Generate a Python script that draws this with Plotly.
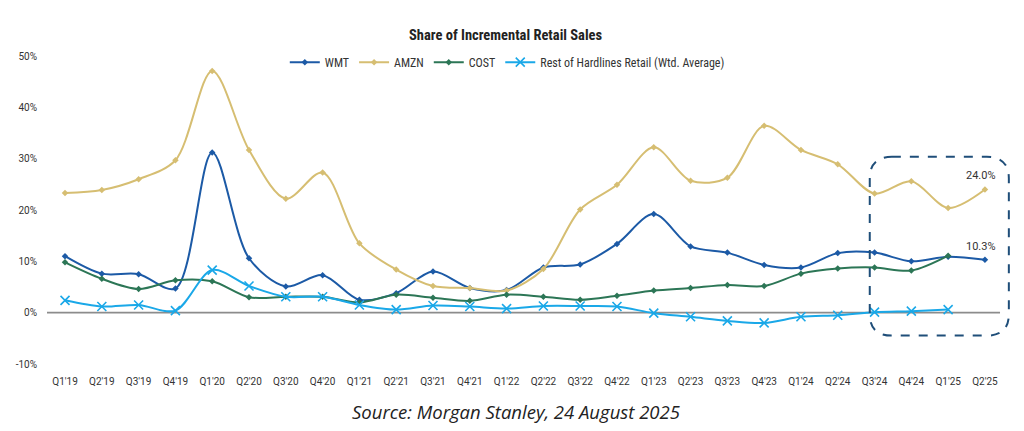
import plotly.graph_objects as go

quarters = ["Q1'19","Q2'19","Q3'19","Q4'19","Q1'20","Q2'20","Q3'20","Q4'20",
            "Q1'21","Q2'21","Q3'21","Q4'21","Q1'22","Q2'22","Q3'22","Q4'22",
            "Q1'23","Q2'23","Q3'23","Q4'23","Q1'24","Q2'24","Q3'24","Q4'24",
            "Q1'25","Q2'25"]

wmt = [11.0, 7.6, 7.5, 4.7, 31.2, 10.6, 5.1, 7.3, 2.5, 3.8, 8.0, 4.8, 4.4, 8.8,
       9.4, 13.4, 19.2, 12.9, 11.7, 9.3, 8.8, 11.6, 11.7, 10.0, 10.9, 10.3]
amzn = [23.3, 23.9, 26.0, 29.7, 47.1, 31.7, 22.2, 27.3, 13.5, 8.4, 5.2, 4.8, 4.3, 8.5,
        20.1, 24.9, 32.2, 25.7, 26.3, 36.4, 31.7, 28.9, 23.2, 25.6, 20.4, 24.0]
cost = [9.8, 6.6, 4.6, 6.3, 6.1, 3.0, 3.1, 3.1, 2.0, 3.5, 2.9, 2.3, 3.5, 3.1,
        2.5, 3.3, 4.3, 4.8, 5.4, 5.2, 7.6, 8.6, 8.8, 8.2, 11.1]
rest = [2.4, 1.2, 1.5, 0.4, 8.3, 5.2, 3.1, 3.1, 1.5, 0.6, 1.4, 1.2, 0.8, 1.3,
        1.3, 1.2, -0.1, -0.8, -1.6, -2.0, -0.8, -0.5, 0.1, 0.3, 0.6]

yticks = [-10, 0, 10, 20, 30, 40, 50]

C_WMT = "#1C5AA6"
C_AMZN = "#D6BE72"
C_COST = "#2C7656"
C_REST = "#1AA8E8"
NARROW = "Roboto Condensed, Roboto, sans-serif"
ROBOTO = "Roboto, sans-serif"

xi = list(range(len(quarters)))

fig = go.Figure()

def add(name, vals, color, symbol, msize, lw=2.0, mline=None):
    marker = dict(symbol=symbol, size=msize, color=color)
    if mline:
        marker["line"] = dict(color=color, width=mline)
    fig.add_trace(go.Scatter(
        x=xi[:len(vals)], y=vals, name=name, mode="lines+markers",
        line=dict(color=color, width=lw, shape="spline", smoothing=0.9),
        marker=marker))

add("WMT", wmt, C_WMT, "diamond", 5)
add("AMZN", amzn, C_AMZN, "diamond", 5)
add("COST", cost, C_COST, "diamond", 5)
add("Rest of Hardlines Retail (Wtd. Average)", rest, C_REST, "x-thin-open", 9, mline=1.6)

# zero line
fig.add_shape(type="line", xref="x", yref="y", x0=-0.49, x1=25.41, y0=0, y1=0,
              line=dict(color="#8C8C8C", width=1.6), layer="below")

# rounded dashed highlight box
x0, x1, y0, y1 = 21.87, 25.65, -4.47, 30.35
rx, ry = 0.6, 4.2
path = (f"M {x0+rx},{y1} L {x1-rx},{y1} Q {x1},{y1} {x1},{y1-ry} "
        f"L {x1},{y0+ry} Q {x1},{y0} {x1-rx},{y0} L {x0+rx},{y0} "
        f"Q {x0},{y0} {x0},{y0+ry} L {x0},{y1-ry} Q {x0},{y1} {x0+rx},{y1} Z")
fig.add_shape(type="path", xref="x", yref="y", path=path,
              line=dict(color="#1F4E79", width=2, dash="dash"))

# end labels
fig.add_annotation(x=25, y=amzn[-1], text=f"{amzn[-1]:.1f}%", showarrow=False,
                   xshift=-4, yshift=14, font=dict(family=ROBOTO, size=11, color="#333"))
fig.add_annotation(x=25, y=wmt[-1], text=f"{wmt[-1]:.1f}%", showarrow=False,
                   xshift=-4, yshift=13, font=dict(family=ROBOTO, size=11, color="#333"))

# source
fig.add_annotation(xref="paper", yref="paper", x=0.485, y=-0.153, xanchor="center", yanchor="middle",
                   text="<i>Source: Morgan Stanley, 24 August 2025</i>", showarrow=False,
                   font=dict(family="Open Sans, sans-serif", size=18.5, color="#222"))

fig.update_layout(
    width=1024, height=431,
    margin=dict(l=47, r=10, t=56, b=67),
    paper_bgcolor="white", plot_bgcolor="white",
    title=dict(text="<b>Share of Incremental Retail Sales</b>", x=0.4937, xanchor="center",
               y=1 - 34.5/431, yanchor="middle",
               font=dict(family=NARROW, size=14.5, color="#222")),
    legend=dict(orientation="h", x=0.476, xanchor="center", y=0.98, yanchor="middle",
                font=dict(family=NARROW, size=12, color="#333"),
                bgcolor="rgba(0,0,0,0)", itemwidth=30, tracegroupgap=0),
    showlegend=True,
    xaxis=dict(range=[-0.49, 25.79], tickvals=xi, ticktext=quarters,
               showgrid=False, zeroline=False, showline=False, ticks="",
               tickfont=dict(family=ROBOTO, size=10, color="#333"),
               ticklabelstandoff=10),
    yaxis=dict(range=[-10, 50], tickvals=yticks,
               ticktext=[f"{v}%" for v in yticks],
               showgrid=False, zeroline=False, showline=False, ticks="",
               tickfont=dict(family=ROBOTO, size=10, color="#333"),
               ticklabelstandoff=9),
)

fig.write_html("out.html", config={"displayModeBar": False},
               post_script="document.body.style.margin='0';")
